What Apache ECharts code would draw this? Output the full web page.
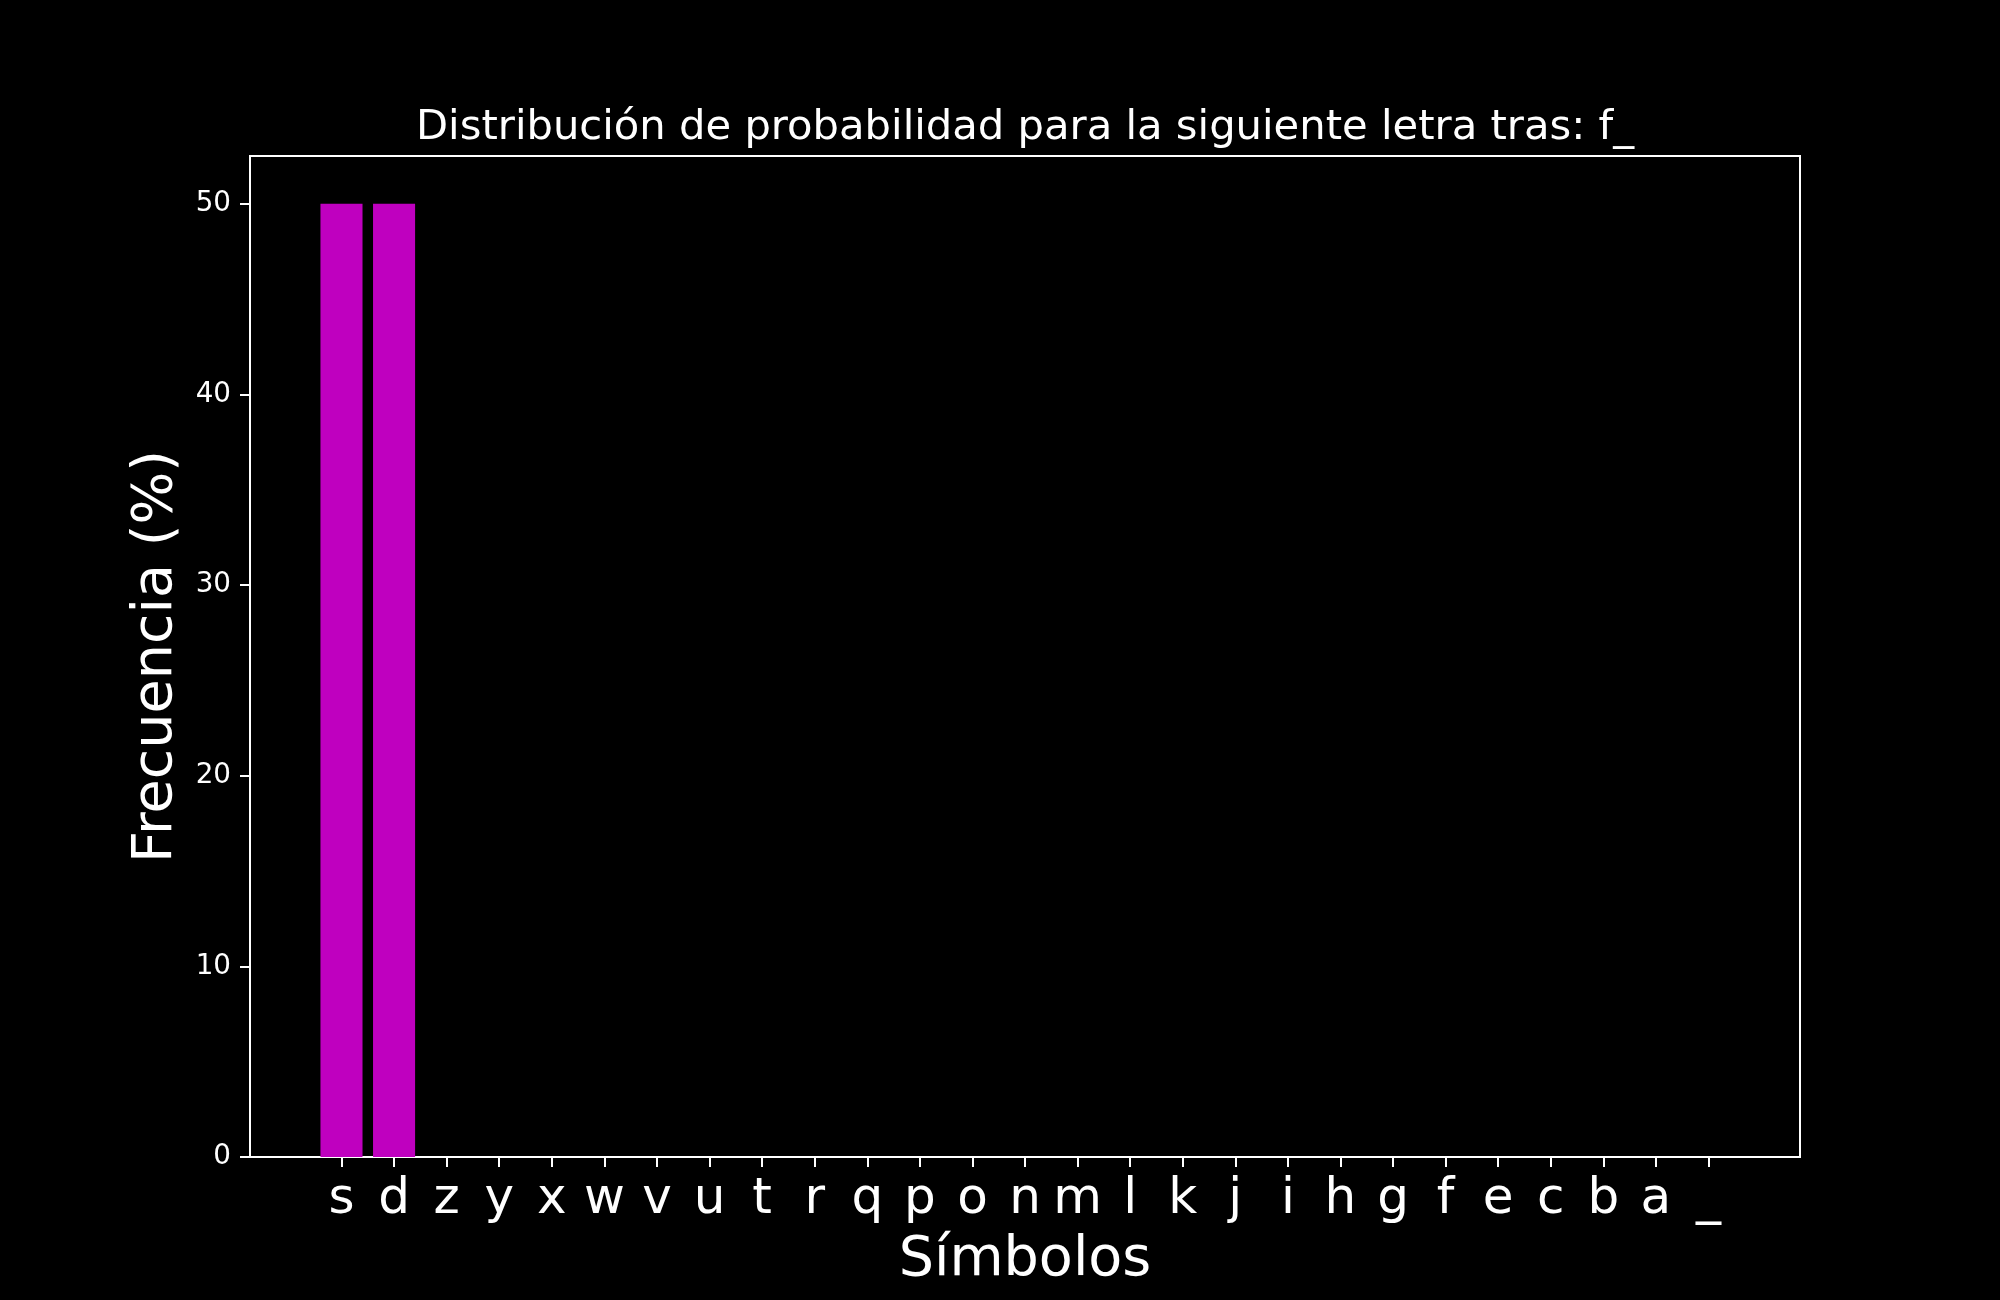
<!DOCTYPE html>
<html>
<head>
<meta charset="utf-8">
<script src="https://cdn.jsdelivr.net/npm/echarts@6/dist/echarts.min.js"></script>
<style>
html,body{margin:0;padding:0;background:#000;}
#chart{width:2000px;height:1300px;}
</style>
</head>
<body>
<div id="chart"></div>
<script>
const categories = ['s','d','z','y','x','w','v','u','t','r','q','p','o','n','m','l','k','j','i','h','g','f','e','c','b','a','_'];
const values = [50,50,0,0,0,0,0,0,0,0,0,0,0,0,0,0,0,0,0,0,0,0,0,0,0,0,0];
const yTicks = [0,10,20,30,40,50];
const titleText = 'Distribución de probabilidad para la siguiente letra tras: f_';
const xName = 'Símbolos';
const yName = 'Frecuencia (%)';

const FONT = 'DejaVu Sans';
const idx = categories.map((c,i)=>i);
const PAD = 1.74;
const xMin = -PAD, xMax = categories.length - 1 + PAD;
const gridW = 1550;
const BAR_HALF = 0.4;

const chart = echarts.init(document.getElementById('chart'), null, {renderer:'canvas'});
chart.setOption({
  backgroundColor: '#000',
  animation: false,
  title: {
    text: titleText,
    left: 1020, textAlign: 'center',
    top: 102,
    textStyle: {color:'#fff', fontFamily: FONT, fontSize: 41.7, fontWeight: 'normal'}
  },
  grid: {
    left: 250, top: 156, width: gridW, height: 1001,
    show: true, borderColor: '#fff', borderWidth: 2, backgroundColor: '#000'
  },
  xAxis: {
    type: 'value', min: xMin, max: xMax,
    name: xName, nameLocation: 'middle', nameGap: 76,
    nameTextStyle: {color:'#fff', fontFamily: FONT, fontSize: 55.6},
    axisLine: {show: true, onZero: false, lineStyle: {color:'#fff', width: 2}},
    axisTick: {show: true, customValues: idx, length: 10, inside: false, lineStyle: {color:'#fff', width: 2}},
    axisLabel: {show: true, customValues: idx, formatter: v => categories[Math.round(v)], color:'#fff', fontFamily: FONT, fontSize: 50, margin: 18},
    splitLine: {show: false}
  },
  yAxis: {
    type: 'value', min: 0, max: 52.5, interval: 10,
    name: yName, nameLocation: 'middle', nameGap: 65,
    nameTextStyle: {color:'#fff', fontFamily: FONT, fontSize: 55.6},
    axisLine: {show: true, onZero: false, lineStyle: {color:'#fff', width: 2}},
    axisTick: {show: true, customValues: yTicks, length: 10, lineStyle: {color:'#fff', width: 2}},
    axisLabel: {customValues: yTicks, color:'#fff', fontFamily: FONT, fontSize: 27.8, margin: 19, padding: [12,0,0,0]},
    splitLine: {show: false}
  },
  series: [{
    type: 'custom',
    data: categories.map((c,i)=>[i, values[i]]),
    encode: {x: 0, y: 1},
    renderItem: function (params, api) {
      const i = api.value(0), v = api.value(1);
      if (!v) return null;
      const p0 = api.coord([i - BAR_HALF, v]);
      const p1 = api.coord([i + BAR_HALF, 0]);
      return {
        type: 'rect',
        shape: {x: p0[0], y: p0[1], width: p1[0] - p0[0], height: p1[1] - p0[1]},
        style: {fill: '#bf00bf'}
      };
    }
  }]
});
</script>
</body>
</html>
